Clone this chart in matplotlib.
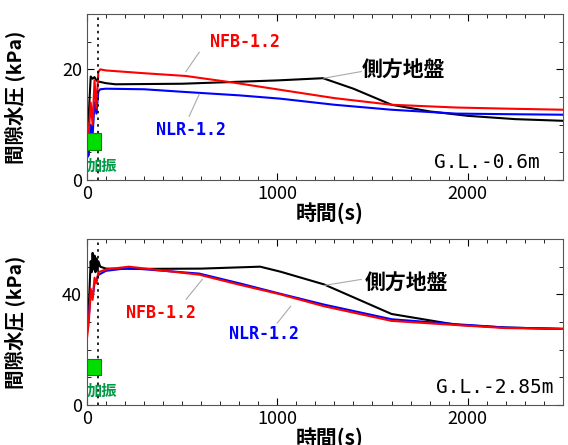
import matplotlib.pyplot as plt
from matplotlib.ticker import MultipleLocator

plt.rcParams['font.family'] = ['Noto Sans CJK JP', 'DejaVu Sans']

# G.L.-0.6m
t_nfb1 = [0, 10, 20, 30, 40, 50, 60, 70, 100, 300, 520, 770, 1016, 1300, 1600, 1940, 2200, 2500]
p_nfb1 = [8, 8.5, 14, 10, 18, 13, 19.5, 20, 19.8, 19.3, 18.8, 17.6, 16.3, 14.8, 13.6, 13.1, 12.9, 12.7]
t_nlr1 = [0, 10, 20, 30, 40, 50, 60, 70, 100, 300, 520, 800, 1016, 1300, 1600, 1940, 2200, 2500]
p_nlr1 = [4, 4.5, 10, 8, 14, 12, 16, 16.4, 16.5, 16.4, 15.9, 15.3, 14.7, 13.6, 12.7, 12.0, 11.9, 11.8]
t_gnd1 = [0, 10, 20, 30, 40, 50, 60, 100, 150, 500, 1000, 1240, 1400, 1600, 1800, 2000, 2250, 2500]
p_gnd1 = [9, 12, 18.7, 18.3, 18.6, 18.0, 17.8, 17.5, 17.3, 17.4, 18.0, 18.4, 16.5, 13.6, 12.4, 11.6, 11.0, 10.7]

# G.L.-2.85m
t_nfb2 = [0, 10, 20, 30, 40, 50, 60, 100, 220, 590, 800, 1016, 1245, 1600, 1940, 2200, 2500]
p_nfb2 = [23.9, 30, 42, 38, 46, 44, 48, 49, 50, 47.1, 43.5, 40, 35.7, 30.4, 28.9, 27.8, 27.5]
t_nlr2 = [0, 10, 20, 30, 40, 50, 60, 100, 220, 590, 800, 1016, 1245, 1600, 1940, 2200, 2500]
p_nlr2 = [26, 32, 40, 39, 44, 45, 47, 48.5, 49.5, 47.5, 44, 40.2, 36.3, 31, 29.2, 28, 27.5]
t_gnd2 = [0, 10, 20, 25, 30, 35, 40, 45, 50, 55, 60, 70, 100, 300, 600, 910, 1016, 1245, 1600, 1940, 2200, 2500]
p_gnd2 = [26, 36, 52, 48, 55, 49, 54, 48, 53, 49, 52, 50, 49.3, 49.2, 49.3, 50, 48.2, 43.6, 32.9, 29, 28, 27.5]

shake_end = 60

fig = plt.figure(figsize=(5.68, 4.45), dpi=100)
ax1 = fig.add_axes([0.153, 0.5955, 0.838, 0.373])
ax2 = fig.add_axes([0.153, 0.0899, 0.838, 0.373])

mono = ['DejaVu Sans Mono']
leader = dict(color='#aaaaaa', lw=0.8)


def style(ax, ymax, ymaj, ymin):
    ax.set_xlim(0, 2500)
    ax.set_ylim(0, ymax)
    ax.xaxis.set_major_locator(MultipleLocator(1000))
    ax.xaxis.set_minor_locator(MultipleLocator(100))
    ax.yaxis.set_major_locator(MultipleLocator(ymaj))
    ax.yaxis.set_minor_locator(MultipleLocator(ymin))
    ax.tick_params(which='both', direction='in', top=True, right=True, labelsize=13)
    ax.tick_params(which='major', length=5)
    ax.tick_params(which='minor', length=3)
    for s in ax.spines.values():
        s.set_color('#555555')
        s.set_linewidth(0.8)
    ax.set_ylabel('間隙水圧 (kPa)', fontsize=14, fontweight='bold')
    ax.yaxis.set_label_coords(-0.13, 0.5)
    ax.set_xlabel('時間(s)', fontsize=15, fontweight='bold')
    ax.xaxis.set_label_coords(0.51, -0.135)
    ax.axvline(shake_end, color='k', ls=(0, (1.5, 2.5)), lw=1.2)


# top panel
ax1.plot(t_gnd1, p_gnd1, color='black', lw=1.5)
ax1.plot(t_nlr1, p_nlr1, color='blue', lw=1.5)
ax1.plot(t_nfb1, p_nfb1, color='red', lw=1.5)
style(ax1, 30, 20, 5)
ax1.add_patch(plt.Rectangle((0, 5.5), 75, 3, facecolor='#00dd00', edgecolor='#008800', lw=0.8, zorder=5))
ax1.text(0, 1.6, '加振', color='#009944', fontsize=11, fontweight='bold')
ax1.text(830, 24.9, 'NFB-1.2', color='red', fontsize=12, family=mono, fontweight='bold', ha='center', va='center')
ax1.plot([590, 520], [23.1, 19.6], **leader)
ax1.text(548, 9.1, 'NLR-1.2', color='blue', fontsize=12, family=mono, fontweight='bold', ha='center', va='center')
ax1.plot([537, 590], [11.5, 15.5], **leader)
ax1.text(1665, 20, '側方地盤', color='black', fontsize=15, fontweight='bold', ha='center', va='center')
ax1.plot([1441, 1245], [19.6, 18.4], **leader)
ax1.text(2380, 3.1, 'G.L.-0.6m', color='black', fontsize=14, family=mono, ha='right', va='center')

# bottom panel
ax2.plot(t_gnd2, p_gnd2, color='black', lw=1.5)
ax2.plot(t_nlr2, p_nlr2, color='blue', lw=1.5)
ax2.plot(t_nfb2, p_nfb2, color='red', lw=1.5)
style(ax2, 60, 40, 10)
ax2.add_patch(plt.Rectangle((0, 10.7), 75, 6, facecolor='#00dd00', edgecolor='#008800', lw=0.8, zorder=5))
ax2.text(0, 3.2, '加振', color='#009944', fontsize=11, fontweight='bold')
ax2.text(388, 33.2, 'NFB-1.2', color='red', fontsize=12, family=mono, fontweight='bold', ha='center', va='center')
ax2.plot([521, 606], [38.2, 45.4], **leader)
ax2.text(930, 25.7, 'NLR-1.2', color='blue', fontsize=12, family=mono, fontweight='bold', ha='center', va='center')
ax2.plot([1000, 1070], [29.6, 35.7], **leader)
ax2.text(1680, 44.3, '側方地盤', color='black', fontsize=15, fontweight='bold', ha='center', va='center')
ax2.plot([1441, 1245], [45.4, 43.2], **leader)
ax2.text(2450, 6.4, 'G.L.-2.85m', color='black', fontsize=14, family=mono, ha='right', va='center')

fig.savefig('out.png', dpi=100)
